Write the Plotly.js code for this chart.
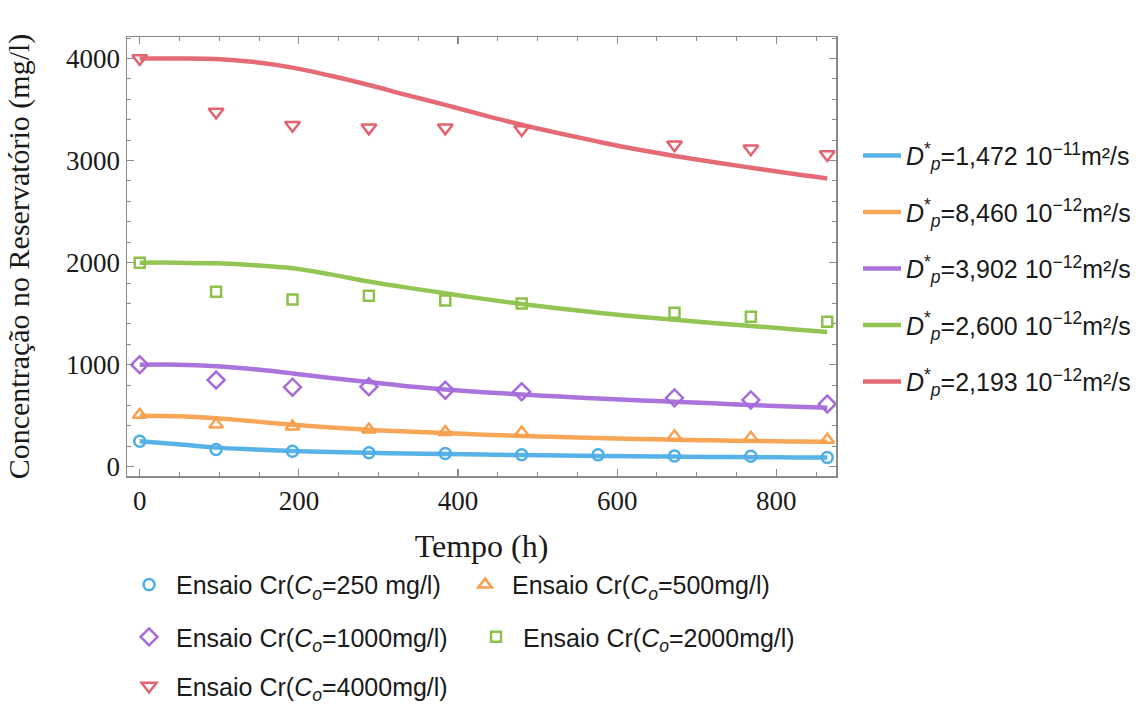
<!DOCTYPE html>
<html>
<head>
<meta charset="utf-8">
<script src="https://cdn.plot.ly/plotly-3.0.1.min.js"></script>
<style>html,body{margin:0;padding:0;background:#fff;}#chart{width:1141px;height:704px;}</style>
</head>
<body>
<div id="chart"></div>
<script>
// Model curve sample times (h)
const tModel = [0,48,96,144,192,240,288,336,384,432,480,528,576,624,672,720,768,816,864];
const model250  = [250,220,188,170,155,145,137,131,125,120,115,111,107,103,100,97,94,92,90];
const model500  = [500,495,475,445,412,385,362,345,330,315,303,292,282,273,265,259,253,249,245];
const model1000 = [1000,1000,985,955,915,870,830,790,757,730,708,688,668,652,638,622,605,590,578];
const model2000 = [2000,2000,1993,1975,1945,1885,1815,1755,1700,1645,1595,1550,1510,1472,1440,1408,1380,1350,1320];
const model4000 = [4000,4000,3995,3965,3910,3830,3740,3640,3545,3445,3350,3265,3185,3110,3045,2985,2930,2875,2825];

// Experimental times (h)
const tExp250 = [0,96,192,288,384,480,576,672,768,864];
const exp250  = [250,170,152,138,130,118,117,105,103,92];
const tExp = [0,96,192,288,384,480,672,768,864];
const exp500  = [510,415,395,365,340,335,300,285,265];
const exp1000 = [1000,850,780,785,750,735,675,655,615];
const exp2000 = [2000,1715,1640,1675,1630,1600,1510,1470,1420];
const exp4000 = [4000,3475,3345,3320,3320,3305,3155,3115,3060];

const lineNames = [
  "<i>D</i><sup>*</sup><sub><i>p</i></sub>=1,472 10<sup>−11</sup>m²/s",
  "<i>D</i><sup>*</sup><sub><i>p</i></sub>=8,460 10<sup>−12</sup>m²/s",
  "<i>D</i><sup>*</sup><sub><i>p</i></sub>=3,902 10<sup>−12</sup>m²/s",
  "<i>D</i><sup>*</sup><sub><i>p</i></sub>=2,600 10<sup>−12</sup>m²/s",
  "<i>D</i><sup>*</sup><sub><i>p</i></sub>=2,193 10<sup>−12</sup>m²/s"
];
const expNames = [
  "Ensaio Cr(<i>C</i><sub><i>o</i></sub>=250 mg/l)",
  "Ensaio Cr(<i>C</i><sub><i>o</i></sub>=500mg/l)",
  "Ensaio Cr(<i>C</i><sub><i>o</i></sub>=1000mg/l)",
  "Ensaio Cr(<i>C</i><sub><i>o</i></sub>=2000mg/l)",
  "Ensaio Cr(<i>C</i><sub><i>o</i></sub>=4000mg/l)"
];
const colors = ["#4EAEE6","#F7A04E","#A66BDA","#8CC24A","#E3626F"];
const symbols = ["circle-open","triangle-up-open","diamond-open","square-open","triangle-down-open"];
const symSizes = [11,12,13,10,13];

const models = [model250, model500, model1000, model2000, model4000];
const exps = [[tExp250,exp250],[tExp,exp500],[tExp,exp1000],[tExp,exp2000],[tExp,exp4000]];
const expLegends = ["legend2","legend2","legend3","legend3","legend4"];

const traces = [];
for (let i = 0; i < 5; i++) {
  traces.push({
    x: tModel, y: models[i], mode: "lines", type: "scatter",
    name: lineNames[i], legend: "legend", legendgroup: "m" + i,
    line: {color: colors[i], width: 4.5, shape: "spline", smoothing: 1},
    opacity: 0.95
  });
}
for (let i = 0; i < 5; i++) {
  traces.push({
    x: exps[i][0], y: exps[i][1], mode: "markers", type: "scatter",
    name: expNames[i], legend: expLegends[i],
    marker: {symbol: symbols[i], size: symSizes[i], color: colors[i], line: {width: 2.5, color: colors[i]}}
  });
}

const serif = "'Liberation Serif', 'Times New Roman', serif";
const sans = "'Liberation Sans', Arial, sans-serif";
const axisCommon = {
  showline: true, linecolor: "#8a8a8a", linewidth: 1.5, mirror: "allticks",
  ticks: "inside", ticklen: 7, tickwidth: 1.2, tickcolor: "#8a8a8a",
  showgrid: false, zeroline: false, automargin: false,
  tickfont: {family: serif, size: 27, color: "#1a1a1a"}
};
const legFontR = {family: sans, size: 25, color: "#1a1a1a"};
const legFontB = {family: sans, size: 25, color: "#1a1a1a"};

const layout = {
  width: 1141, height: 704,
  paper_bgcolor: "#ffffff", plot_bgcolor: "#ffffff",
  margin: {l: 127, r: 305, t: 37, b: 228, autoexpand: false},
  showlegend: true,
  xaxis: Object.assign({}, axisCommon, {
    range: [-16, 875], dtick: 200, tick0: 0,
    minor: {dtick: 50, ticks: "inside", ticklen: 4, tickcolor: "#8a8a8a", tickwidth: 1},
    title: {text: "Tempo (h)", font: {family: serif, size: 32, color: "#1a1a1a"}, standoff: 19}
  }),
  yaxis: Object.assign({}, axisCommon, {
    range: [-90, 4210], dtick: 1000, tick0: 0,
    minor: {dtick: 200, ticks: "inside", ticklen: 4, tickcolor: "#8a8a8a", tickwidth: 1},
    title: {text: "Concentração no Reservatório (mg/l)", font: {family: serif, size: 30, color: "#1a1a1a"}, standoff: 27}
  }),
  legend: {
    x: 1.031, y: 0.782, xanchor: "left", yanchor: "top",
    font: legFontR, bgcolor: "rgba(0,0,0,0)", tracegroupgap: 21, itemwidth: 38
  },
  legend2: {
    orientation: "h", x: -0.007, y: -0.248, xanchor: "left", yanchor: "middle",
    entrywidth: 277, entrywidthmode: "pixels", itemwidth: 44,
    font: legFontB, bgcolor: "rgba(0,0,0,0)"
  },
  legend3: {
    orientation: "h", x: -0.007, y: -0.367, xanchor: "left", yanchor: "middle",
    entrywidth: 288, entrywidthmode: "pixels", itemwidth: 44,
    font: legFontB, bgcolor: "rgba(0,0,0,0)"
  },
  legend4: {
    orientation: "h", x: -0.007, y: -0.479, xanchor: "left", yanchor: "middle",
    entrywidth: 277, entrywidthmode: "pixels", itemwidth: 44,
    font: legFontB, bgcolor: "rgba(0,0,0,0)"
  }
};

Plotly.newPlot("chart", traces, layout, {displayModeBar: false, staticPlot: true});
</script>
</body>
</html>
